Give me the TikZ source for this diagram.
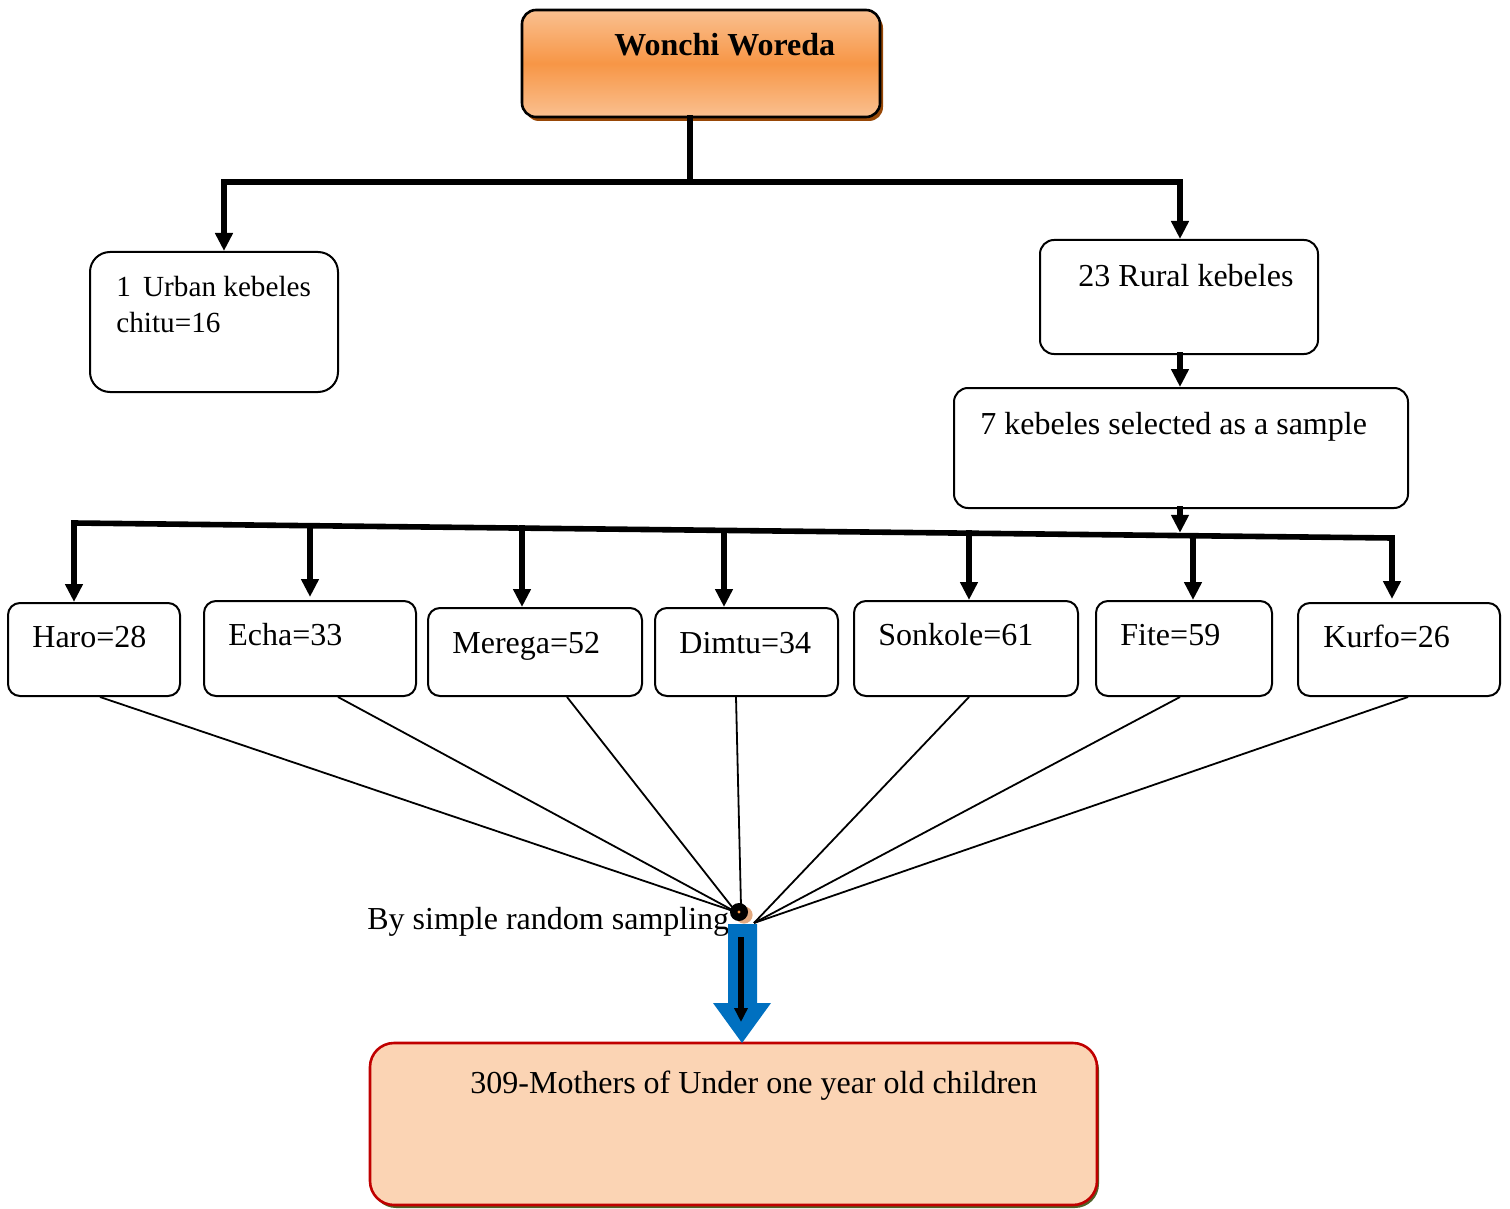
\documentclass[tikz,border=0pt]{standalone}
\usepackage{fontspec}
\setmainfont{Liberation Serif}
\usetikzlibrary{arrows.meta,shadows}
\definecolor{orlight}{HTML}{FAC090}
\definecolor{ormid}{HTML}{F79646}
\definecolor{orshadow}{HTML}{984807}
\definecolor{peach}{HTML}{FBD4B4}
\definecolor{motherred}{HTML}{C00000}
\definecolor{greenshadow}{HTML}{4F6228}
\definecolor{arrowblue}{HTML}{0070C0}
\definecolor{halo}{HTML}{E2A980}
\begin{document}
\begin{tikzpicture}[x=0.5pt,y=-0.5pt,
  every node/.style={font=\fontsize{16}{19}\selectfont},
  box/.style={draw,line width=1pt,rounded corners=6pt,inner sep=0pt},
  txt/.style={anchor=base west,inner sep=0pt},
  bigline/.style={line width=2.8pt,line cap=rect},
  bigarrow/.style={line width=2.8pt,line cap=rect,-{Triangle[width=8.5pt,length=9pt]}},
  thinline/.style={line width=0.9pt}]
\useasboundingbox (0,0) rectangle (1510,1209);

% woreda
\node[box,line width=1.3pt,rounded corners=7pt,minimum width=179pt,minimum height=53.5pt,
  top color=orlight,bottom color=orlight,middle color=ormid,
  drop shadow={shadow xshift=1.5pt,shadow yshift=-2pt,opacity=1,fill=orshadow}] (woreda) at (701,63.5) {};
\node[txt,font=\bfseries\fontsize{16}{19}\selectfont] (woreda-t) at (614,56) {Wonchi Woreda};

% urban / rural
\node[box,rounded corners=10pt,minimum width=124pt,minimum height=70pt] (urban) at (214,322) {};
\node[txt,font=\fontsize{14.6}{18}\selectfont] (urban-t) at (116,297) {1\, Urban kebeles};
\node[txt,font=\fontsize{14.6}{18}\selectfont] (chitu-t) at (116,333) {chitu=16};
\node[box,rounded corners=7pt,minimum width=139pt,minimum height=57pt] (rural) at (1179,297) {};
\node[txt] (rural-t) at (1078,287) {23 Rural kebeles};
\node[box,rounded corners=7pt,minimum width=227pt,minimum height=60pt] (sample) at (1181,448) {};
\node[txt] (sample-t) at (980,434) {7 kebeles selected as a sample};

\coordinate (split) at (690,182);
\coordinate (tl) at (224,182);
\coordinate (tr) at (1180,182);
\draw[bigline] (woreda.south -| split) -- (split);
\draw[bigarrow] (split) -- (tl) -- (tl |- urban.north);
\draw[bigarrow] (split) -- (tr) -- (tr |- rural.north);
\draw[bigarrow] (rural.south -| tr) -- (tr |- sample.north);

% kebeles
\node[box,minimum width=86pt,minimum height=46.5pt] (haro) at (94,649.5) {};
\node[txt] (haro-t) at (32,647) {Haro=28};
\node[box,minimum width=106pt,minimum height=47.5pt] (echa) at (310,648.5) {};
\node[txt] (echa-t) at (228,645) {Echa=33};
\node[box,minimum width=107pt,minimum height=44pt] (merega) at (535,652) {};
\node[txt] (merega-t) at (452,653) {Merega=52};
\node[box,minimum width=91.5pt,minimum height=44pt] (dimtu) at (746.5,652) {};
\node[txt] (dimtu-t) at (679,653) {Dimtu=34};
\node[box,minimum width=112pt,minimum height=47.5pt] (sonkole) at (966,648.5) {};
\node[txt] (sonkole-t) at (878,645) {Sonkole=61};
\node[box,minimum width=88pt,minimum height=47.5pt] (fite) at (1184,648.5) {};
\node[txt] (fite-t) at (1120,645) {Fite=59};
\node[box,minimum width=101pt,minimum height=46.5pt] (kurfo) at (1399,649.5) {};
\node[txt] (kurfo-t) at (1323,647) {Kurfo=26};

% bar
\coordinate (b1) at (74,523);
\coordinate (b2) at (310,525.7);
\coordinate (b3) at (522,528.1);
\coordinate (b4) at (724,530.4);
\coordinate (b5) at (969,533.2);
\coordinate (bs) at (1180,535.6);
\coordinate (b6) at (1193,535.7);
\coordinate (b7) at (1392,538);
\draw[bigline] (b1) -- (b7);
\draw[bigarrow] (sample.south -| bs) -- ([yshift=1.4pt]bs);
\draw[bigarrow] (b1) -- (b1 |- haro.north);
\draw[bigarrow] (b2) -- ([yshift=1.5pt]b2 |- echa.north);
\draw[bigarrow] (b3) -- (b3 |- merega.north);
\draw[bigarrow] (b4) -- (b4 |- dimtu.north);
\draw[bigarrow] (b5) -- (b5 |- sonkole.north);
\draw[bigarrow] (b6) -- (b6 |- fite.north);
\draw[bigarrow] (b7) -- ([yshift=1.5pt]b7 |- kurfo.north);

% sampling
\coordinate (hubl) at (736,912);
\coordinate (hubr) at (754,923);
\draw[thinline] ([xshift=3pt]haro.south) -- (hubl);
\draw[thinline] ([xshift=14pt]echa.south) -- (hubl);
\draw[thinline] ([xshift=16pt]merega.south) -- (hubl);
\draw[thinline] ([xshift=-5.25pt]dimtu.south) -- (741,906);
\draw[thinline] ([xshift=1.5pt]sonkole.south) -- (hubr);
\draw[thinline] ([xshift=-2pt]fite.south) -- (hubr);
\draw[thinline] ([xshift=4.5pt]kurfo.south) -- (hubr);
\fill[halo] (744,915) circle (4.3pt);
\fill (739,912) circle (4.5pt);
\fill[ormid] (739,912) circle (0.8pt);
\node[txt] (sampling) at (367,929) {By simple random sampling};

% mothers
\node[box,draw=motherred,line width=1.3pt,fill=peach,rounded corners=12pt,minimum width=363.5pt,minimum height=81pt,
  drop shadow={shadow xshift=1pt,shadow yshift=-1.5pt,opacity=1,fill=greenshadow}] (mothers) at (733.5,1124) {};
\node[txt] (mothers-t) at (470,1093) {309-Mothers of Under one year old children};

\fill[arrowblue] (728,924) -- (757,924) -- (757,1003) -- (771,1003) -- (742,1043) -- (713,1003) -- (728,1003) -- cycle;
\coordinate (pick) at (741,937);
\coordinate (drop) at (741,1022);
\draw[line width=2.6pt,-{Triangle[width=6.5pt,length=7pt]}] (pick) -- (drop);
\end{tikzpicture}
\end{document}
